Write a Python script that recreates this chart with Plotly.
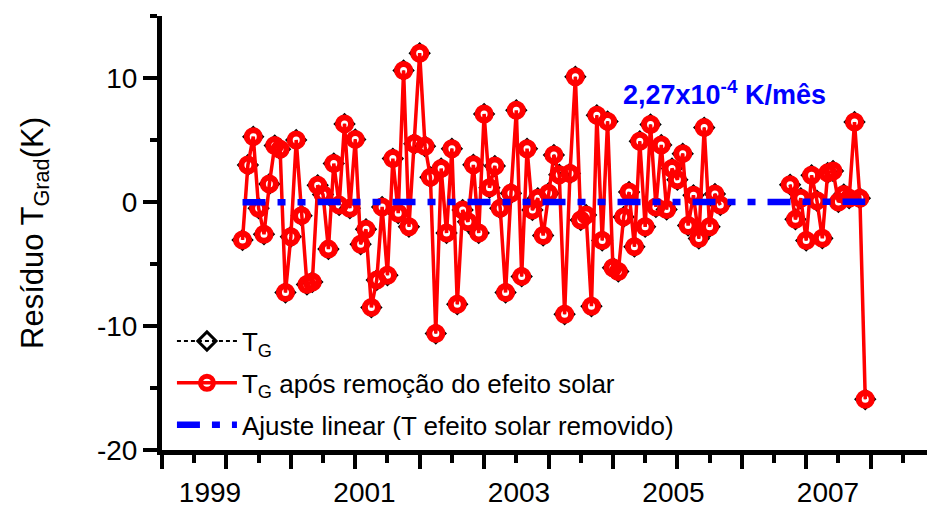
import plotly.graph_objects as go

# Monthly residuals of the gradient temperature (K); None marks months with no data
months = list(range(3, 120))
tg_sem_solar = [
    -3.06, 2.98, 5.27, -0.5, -2.6, 1.45, 4.55, 4.25, -7.3, -2.8,
    5.0, -1.1, -6.65, -6.45, 1.35, 0.6, -3.8, 3.1, -0.25, 6.3,
    -0.5, 5.05, -3.4, -2.2, -8.5, -6.3, -0.4, -5.9, 3.5, -0.9,
    10.6, -2.0, 4.7, 12.0, 4.5, 2.0, -10.6, 2.7, -2.5, 4.3,
    -8.25, -0.65, -1.6, 3.0, -2.5, 7.1, 1.15, 2.9, -0.5, -7.3,
    0.7, 7.4, -6.0, 4.3, -0.65, 0.3, -2.7, 0.7, 3.8, 2.2,
    -9.05, 2.3, 10.1, -1.45, -1.05, -8.4, 7.0, -3.1, 6.5, -5.3,
    -5.6, -1.2, 0.8, -3.6, 4.9, -2.0, 6.25, -0.4, 4.6, -0.6,
    2.7, 1.8, 3.9, -1.9, 0.55, -2.95, 6.0, -2.0, 0.65, -0.25,
    None, None, None, None, None, None, None, None, None, None, None, None,
    1.4, -1.4, 0.3, -3.1, 2.15, 0.1, -2.93, 2.35, 2.5, 0.0,
    0.6, 0.3, 6.45, 0.3, -15.9,
]
# Raw T_G residuals (indistinguishable from the corrected series at this scale)
tg = list(tg_sem_solar)

# Linear trend of the corrected series
fit_slope = 2.27e-4          # K per month
fit_months = [months[0], months[-1]]
fit_center = sum(fit_months) / 2
fit_values = [fit_slope * (m - fit_center) for m in fit_months]

year_labels = ["1999", "2001", "2003", "2005", "2007"]
year_vals = [1999, 2001, 2003, 2005, 2007]
y_tick_vals = [-20, -10, 0, 10]
y_tick_text = ["-20", "-10", "0", "10"]

FONT = "Arial, Liberation Sans, sans-serif"

fig = go.Figure()

fig.add_trace(go.Scatter(
    x=months, y=tg, mode="lines+markers", name="T<sub>G</sub>",
    line=dict(color="black", width=2, dash="4px,3px"),
    marker=dict(symbol="diamond-open", size=14, color="black", line=dict(width=3, color="black")),
    connectgaps=False, legendgroup="a",
))
fig.add_trace(go.Scatter(
    x=months, y=tg_sem_solar, mode="lines+markers",
    name="T<sub>G</sub> após remoção do efeito solar",
    line=dict(color="#ff0000", width=3.5),
    marker=dict(symbol="circle-open", size=13, color="#ff0000", line=dict(width=6, color="#ff0000")),
    connectgaps=False, legendgroup="b",
))
fig.add_trace(go.Scatter(
    x=fit_months, y=fit_values, mode="lines",
    name="Ajuste linear (T efeito solar removido)",
    line=dict(color="#0000ff", width=6.5, dash="23px,12px,8px,12px,8px,12px"),
    legendgroup="c",
))

# Year labels on an overlaid axis
fig.add_trace(go.Scatter(x=[year_vals[0]], y=[None], xaxis="x2", showlegend=False, hoverinfo="skip"))

fig.add_annotation(
    x=73.5, y=8.8, xref="x", yref="y", xanchor="left", yanchor="middle",
    text="<b>2,27x10<sup>-4</sup> K/mês</b>", showarrow=False,
    font=dict(family=FONT, size=27, color="#0000ff"),
)

fig.update_layout(
    width=927, height=509,
    margin=dict(l=162, r=0, t=16, b=59),
    paper_bgcolor="white", plot_bgcolor="white",
    font=dict(family=FONT, color="black"),
    showlegend=True,
    legend=dict(
        x=0.013, y=0.305, xanchor="left", yanchor="top",
        bgcolor="rgba(0,0,0,0)", font=dict(family=FONT, size=26, color="black"),
        tracegroupgap=5, itemwidth=60,
    ),
    xaxis=dict(
        range=[-12, 130.5], showgrid=False, zeroline=False,
        showline=True, linecolor="black", linewidth=5,
        ticks="outside", tick0=-12, dtick=12, ticklen=14, tickwidth=4, tickcolor="black",
        showticklabels=False,
        minor=dict(ticks="outside", dtick=6, tick0=-12, ticklen=8, tickwidth=4, tickcolor="black"),
        automargin=False,
    ),
    xaxis2=dict(
        overlaying="x", anchor="y", side="bottom",
        range=[1999 - 48 / 77.25, 1999 + 717 / 77.25],
        tickmode="array", tickvals=year_vals, ticktext=year_labels,
        showline=False, showgrid=False, zeroline=False, ticks="",
        tickfont=dict(family=FONT, size=28, color="black"),
        ticklabelstandoff=23, automargin=False,
    ),
    yaxis=dict(
        range=[-20, 15], showgrid=False, zeroline=False,
        showline=True, linecolor="black", linewidth=5,
        ticks="outside", tickmode="array", tickvals=y_tick_vals, ticktext=y_tick_text,
        ticklen=14, tickwidth=4, tickcolor="black",
        tickfont=dict(family=FONT, size=28, color="black"),
        minor=dict(ticks="outside", tickmode="array", tickvals=[-15, -5, 5, 15],
                   ticklen=7, tickwidth=4, tickcolor="black"),
        title=dict(text="Resíduo T<sub>Grad</sub>(K)", font=dict(family=FONT, size=31, color="black"),
                   standoff=46),
        automargin=False,
    ),
)

fig.write_html("out.html")
